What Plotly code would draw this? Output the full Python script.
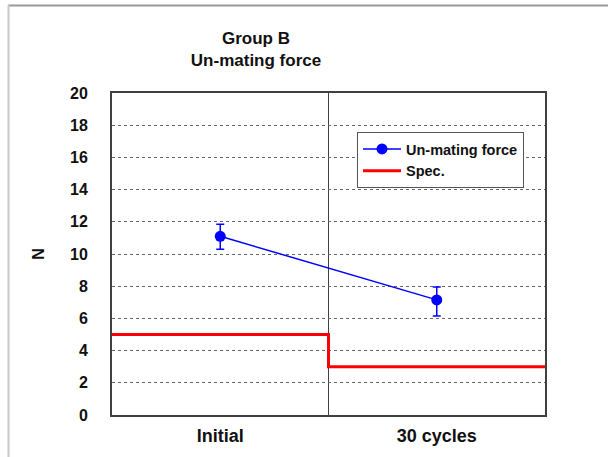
import plotly.graph_objects as go

categories = ["Initial", "30 cycles"]
force_mean = [11.1, 7.15]
force_err_plus = [0.75, 0.8]
force_err_minus = [0.8, 1.0]
spec_values = [5, 3]
y_ticks = [0, 2, 4, 6, 8, 10, 12, 14, 16, 18, 20]

FONT = "Liberation Sans, Arial, sans-serif"

x_pos = [i + 0.5 for i in range(len(categories))]
spec_x = list(range(len(categories) + 1))
spec_y = spec_values + [spec_values[-1]]

fig = go.Figure()
fig.add_trace(go.Scatter(
    x=spec_x, y=spec_y, mode="lines", line_shape="hv",
    line=dict(color="#ff0000", width=3), name="<b>Spec.</b>",
))
fig.add_trace(go.Scatter(
    x=x_pos, y=force_mean, mode="lines+markers", name="<b>Un-mating force</b>",
    line=dict(color="#0000ff", width=1.5),
    marker=dict(color="#0000ff", size=11),
    error_y=dict(type="data", symmetric=False, array=force_err_plus,
                 arrayminus=force_err_minus, color="#0000ff", thickness=1.5, width=4),
))

W, H = 608, 457
ml, mr, mt, mb = 112, 63, 93, 42
pw, ph = W - ml - mr, H - mt - mb
def px(x): return (x - ml) / pw
def py(y): return (H - mb - y) / ph

fig.update_layout(
    width=W, height=H,
    margin=dict(l=ml, r=mr, t=mt, b=mb),
    paper_bgcolor="white", plot_bgcolor="white",
    font=dict(family=FONT, color="#111111"),
    title=dict(text="<b>Group B<br>Un-mating force</b>", x=256 / W, xanchor="center",
               y=1 - 44 / H, yanchor="top", font=dict(size=17, family=FONT)),
    showlegend=True,
    legend=dict(x=px(357), y=py(132), xanchor="left", yanchor="top",
                bordercolor="#555555", borderwidth=1, bgcolor="white",
                font=dict(size=14.5, family=FONT), traceorder="reversed",
                itemwidth=38, tracegroupgap=0),
    xaxis=dict(range=[0, 2], tickvals=x_pos, ticktext=[f"<b>{c}</b>" for c in categories],
               tickfont=dict(size=18, family=FONT), showgrid=False, zeroline=False,
               showline=True, linecolor="#404040", linewidth=2, mirror=True,
               ticks="", ticklabelstandoff=3, fixedrange=True),
    yaxis=dict(range=[0, 20], tickvals=y_ticks, ticktext=[f"<b>{v}</b>" for v in y_ticks],
               tickfont=dict(size=16, family=FONT), showgrid=True, gridcolor="#666666",
               griddash="dot", gridwidth=1, zeroline=False,
               showline=True, linecolor="#404040", linewidth=2, mirror=True,
               ticks="", ticklen=0, ticklabelstandoff=19,
               title=dict(text="<b>N</b>", font=dict(size=16, family=FONT), standoff=21)),
    shapes=[
        dict(type="line", xref="x", yref="paper", x0=1, x1=1, y0=0, y1=1,
             line=dict(color="#404040", width=1), layer="below"),
        dict(type="line", xref="paper", yref="paper", x0=px(8), x1=px(W), y0=py(5.5), y1=py(5.5),
             line=dict(color="#999999", width=2)),
        dict(type="line", xref="paper", yref="paper", x0=px(8.5), x1=px(8.5), y0=py(5), y1=py(H),
             line=dict(color="#c8c8c8", width=2)),
    ],
)

fig.write_html("out.html", config={"displayModeBar": False},
               post_script="document.body.style.margin='0';")
